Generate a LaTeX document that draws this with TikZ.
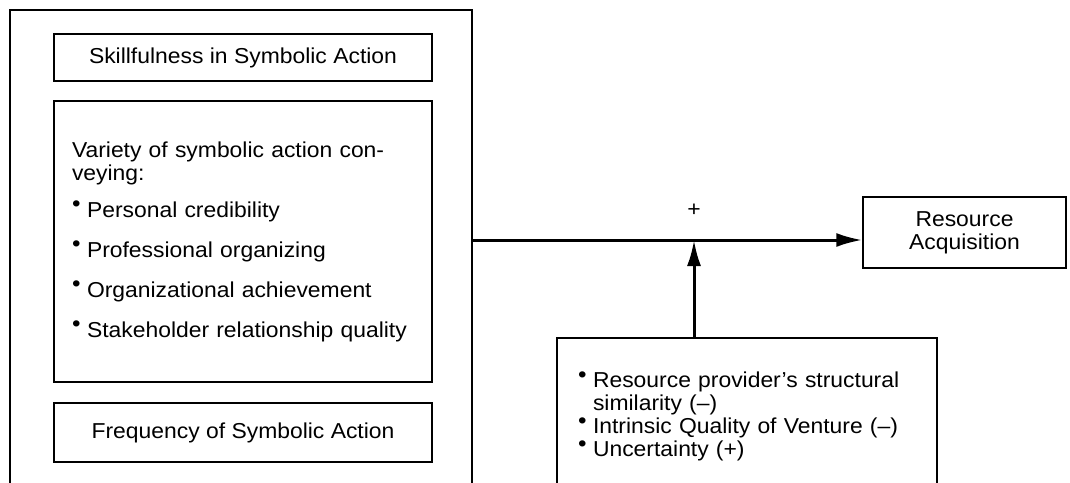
\documentclass[tikz,border=0pt]{standalone}
\usepackage{fontspec}
\setmainfont[FakeStretch=1.06]{Liberation Sans}
\usetikzlibrary{arrows.meta}
\newcommand{\bul}{\makebox[7.5pt][l]{\hspace{0pt}\raisebox{2.6pt}{\fontsize{11.5}{11.5}\selectfont\textbullet}}}

\begin{document}
\begin{tikzpicture}[x=0.5pt, y=-0.5pt, >={Latex[length=13pt,width=7pt]},
		font=\fontsize{10.8}{11.5}\selectfont,
		box/.style={draw, line width=0.7pt, inner sep=0pt},
		listbox/.style={box, align=left, text width=#1},
		flow/.style={->, line width=1.5pt}]
		\useasboundingbox (0,0) rectangle (1070,482);
		\clip (0,0) rectangle (1070,482);
		\node[box, minimum width=231pt, minimum height=260pt] (outer) at (241,270) {};
		\node[box, minimum width=189pt, minimum height=23.5pt] (skill) at (243,57.5) {Skillfulness in Symbolic Action};
		\node[listbox=171pt, inner xsep=9pt, minimum height=140.5pt] (variety) at (243,241.5)
			{Variety of symbolic action con-\\veying:\\[7pt]
			\bul Personal credibility\\[8.5pt]
			\bul Professional organizing\\[8.5pt]
			\bul Organizational achievement\\[8.5pt]
			\bul Stakeholder relationship quality};
		\node[box, minimum width=189pt, minimum height=29.5pt] (freq) at (243,432.5) {Frequency of Symbolic Action};
		\node[box, align=center, minimum width=101.5pt, minimum height=35.5pt] (res) at (964.5,232.5) {Resource\\Acquisition};
		\node[listbox=169pt, inner xsep=10.5pt, minimum height=78pt] (mod) at (747,416)
			{\bul Resource provider’s structural\\
			\hspace*{7.5pt}similarity (–)\\
			\bul Intrinsic Quality of Venture (–)\\
			\bul Uncertainty (+)};
		\coordinate (joint) at (694,240);
		\node (plus) at (694,210) {+};
		\draw[flow] (outer.east |- joint) -- (res.west |- joint);
		\draw[flow] (mod.north -| joint) -- (joint);
\end{tikzpicture}
\end{document}
